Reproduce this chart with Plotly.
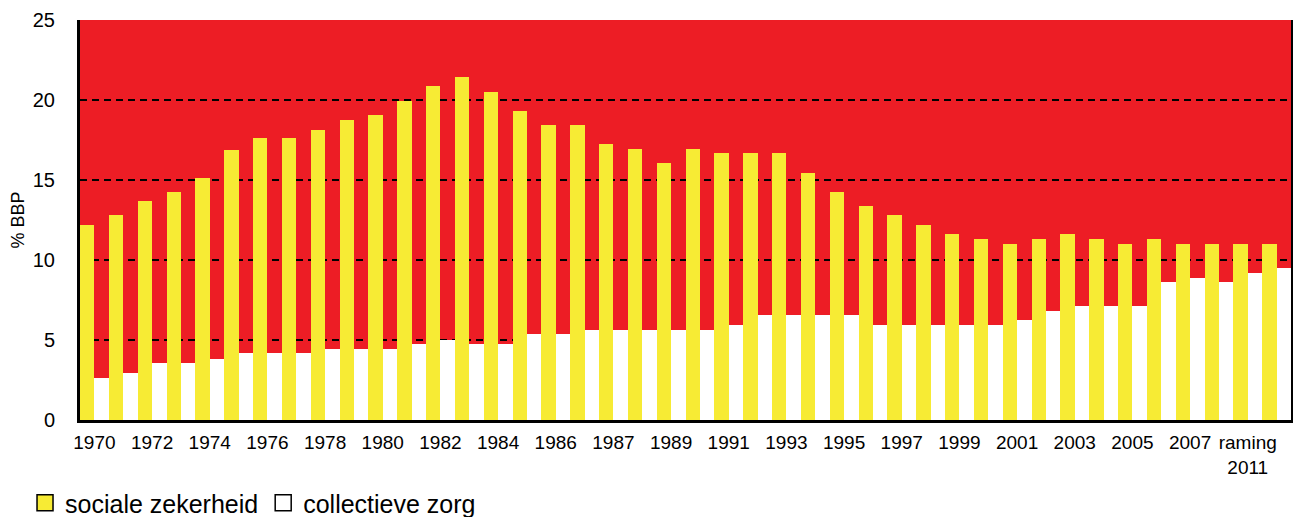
import plotly.graph_objects as go

categories = ["1970", "1971", "1972", "1973", "1974", "1975", "1976", "1977", "1978", "1979",
              "1980", "1981", "1982", "1983", "1984", "1985", "1986", "1986*", "1987", "1988",
              "1989", "1990", "1991", "1992", "1993", "1994", "1995", "1996", "1997", "1998",
              "1999", "2000", "2001", "2002", "2003", "2004", "2005", "2006", "2007", "2008",
              "raming 2011", "2011*"]

sociale_zekerheid = [12.2, 12.8, 13.7, 14.25, 15.1, 16.9, 17.6, 17.6, 18.1, 18.75,
                     19.05, 19.95, 20.9, 21.45, 20.5, 19.3, 18.45, 18.45, 17.25, 16.95,
                     16.05, 16.95, 16.7, 16.7, 16.7, 15.45, 14.25, 13.4, 12.8, 12.2,
                     11.65, 11.3, 11.0, 11.3, 11.65, 11.3, 11.0, 11.3, 11.0, 11.0,
                     11.0, 11.0]

collectieve_zorg = [2.6, 2.95, 3.55, 3.55, 3.8, 4.2, 4.2, 4.2, 4.45, 4.45,
                    4.45, 4.75, 5.0, 4.75, 4.75, 5.35, 5.35, 5.6, 5.6, 5.6,
                    5.6, 5.6, 5.95, 6.55, 6.55, 6.55, 6.55, 5.95, 5.95, 5.95,
                    5.95, 5.95, 6.25, 6.8, 7.1, 7.1, 7.1, 8.6, 8.9, 8.6,
                    9.2, 9.5]

series_names = ["sociale zekerheid", "collectieve zorg"]
series_colors = ["#F7EB34", "#FFFFFF"]

tick_values = categories[::2]
tick_labels = ["1970", "1972", "1974", "1976", "1978", "1980", "1982", "1984", "1986",
               "1987", "1989", "1991", "1993", "1995", "1997", "1999", "2001", "2003",
               "2005", "2007", "raming<br>2011"]

FONT = "Liberation Sans, Arial, Helvetica, sans-serif"

fig = go.Figure()
for vals, name, col in zip([sociale_zekerheid, collectieve_zorg], series_names, series_colors):
    fig.add_trace(go.Bar(x=categories, y=vals, name=name, legendgroup=name,
                         showlegend=False,
                         marker=dict(color=col, line=dict(width=0))))
# legend entries (bordered squares as in the original)
for name, col in zip(series_names, series_colors):
    fig.add_trace(go.Scatter(x=[None], y=[None], mode="markers", name=name,
                             legendgroup=name, showlegend=True,
                             marker=dict(symbol="square", size=16, color=col,
                                         line=dict(color="black", width=1.5))))

# the page adds an 8px body margin, so the figure is 8px smaller on each axis
fig.update_layout(
    width=1293, height=509,
    margin=dict(l=72, r=10, t=12, b=97, autoexpand=False),
    paper_bgcolor="white",
    plot_bgcolor="#ED1D25",
    barmode="group", bargap=0, bargroupgap=0,
    font=dict(family=FONT, color="black"),
    showlegend=True,
    legend=dict(orientation="h", x=-0.0454, xanchor="left", y=-0.2075, yanchor="middle",
                font=dict(size=25, family=FONT), itemwidth=30, tracegroupgap=0,
                bgcolor="rgba(0,0,0,0)"),
)

fig.update_xaxes(
    type="category", automargin=False,
    tickmode="array", tickvals=tick_values, ticktext=tick_labels,
    tickfont=dict(size=19, family=FONT),
    showline=True, linecolor="black", linewidth=3, layer="above traces",
    showgrid=False, ticks="", ticklabelstandoff=3,
    mirror=False,
)

fig.update_yaxes(
    range=[0, 25], dtick=5, tick0=0, automargin=False,
    tickfont=dict(size=20, family=FONT),
    showline=True, linecolor="black", linewidth=3, mirror=True, layer="above traces",
    showgrid=True, gridcolor="black", gridwidth=2, griddash="7px,5px",
    zeroline=False, ticks="", ticklabelstandoff=18,
    title=dict(text="% BBP", font=dict(size=18, family=FONT), standoff=4),
)

fig.write_html("out.html")
